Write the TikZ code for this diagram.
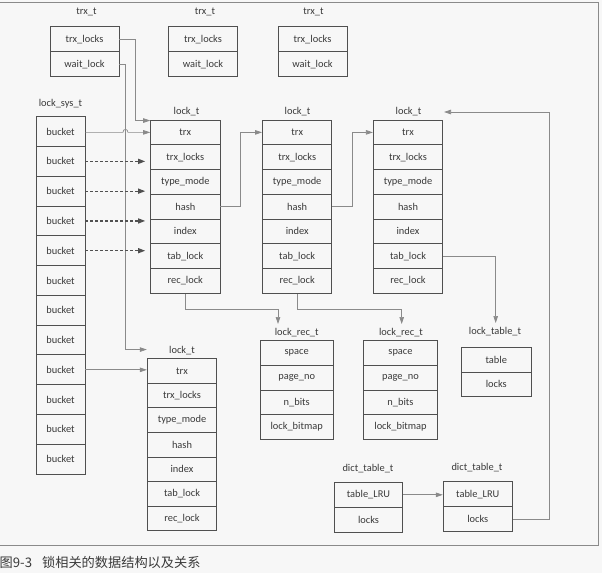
\documentclass[tikz,border=0pt]{standalone}
\usepackage{fontspec}
\setmainfont{Carlito}
\newfontfamily\cjkfont{Noto Sans CJK SC}
\usetikzlibrary{arrows.meta,calc}
\definecolor{boxc}{HTML}{505050}
\definecolor{linec}{HTML}{8A8A8A}
\definecolor{txtc}{HTML}{3A3A3A}
\definecolor{paper}{HTML}{F7F7F7}

% a record: name, x centre, y top, width, row height, row labels
\newcommand\drawrec[6]{%
  \foreach \t [count=\i] in {#6}{%
    \node[cell,minimum width=#4,minimum height=#5] (#1r\i) at (#2,{#3+#5*(\i-0.5)}) {\t};}}

\begin{document}
\begin{tikzpicture}[x=1pt,y=-1pt,
  cell/.style={draw=boxc,line width=0.9pt,inner sep=0pt,font=\fontsize{10.4}{12}\selectfont,text=txtc},
  title/.style={inner sep=0pt,font=\fontsize{10.4}{12}\selectfont,text=txtc},
  conn/.style={draw=linec,line width=0.7pt,-{Triangle[length=7pt,width=4.5pt]}},
  dashconn/.style={draw=boxc,line width=1.2pt,dash pattern=on 3pt off 2pt,-{Triangle[length=7pt,width=5pt]}},
  frame/.style={draw=linec,line width=0.8pt}]
\fill[paper] (0,0) rectangle (602,573);
\useasboundingbox (0,0) rectangle (602,573);

% frame of the figure
\draw[frame] (0,2) -- (598,2) -- (598,545) -- (0,545);

% transactions
\drawrec{t1}{84.5}{26.7}{69}{25}{trx\_locks,wait\_lock}
\drawrec{t2}{203}{26.7}{69}{25}{trx\_locks,wait\_lock}
\drawrec{t3}{312.5}{26.7}{69}{25}{trx\_locks,wait\_lock}
\node[title] (t1t) at (86.5,12) {trx\_t};
\node[title] (t2t) at (205,12) {trx\_t};
\node[title] (t3t) at (313.5,12) {trx\_t};

% lock system hash buckets
\drawrec{s}{60.5}{116.7}{49}{29.78}{bucket,bucket,bucket,bucket,bucket,bucket,bucket,bucket,bucket,bucket,bucket,bucket}
\node[title] (st) at (60.5,104) {lock\_sys\_t};

% locks
\drawrec{l1}{185.3}{120}{69.3}{24.76}{trx,trx\_locks,type\_mode,hash,index,tab\_lock,rec\_lock}
\drawrec{l2}{297.2}{120}{69.3}{24.76}{trx,trx\_locks,type\_mode,hash,index,tab\_lock,rec\_lock}
\drawrec{l3}{408}{120}{69.3}{24.76}{trx,trx\_locks,type\_mode,hash,index,tab\_lock,rec\_lock}
\drawrec{l4}{182}{358.7}{69.4}{24.57}{trx,trx\_locks,type\_mode,hash,index,tab\_lock,rec\_lock}
\node[title] (l1t) at (186.5,112) {lock\_t};
\node[title] (l2t) at (297.5,112) {lock\_t};
\node[title] (l3t) at (408.5,112) {lock\_t};
\node[title] (l4t) at (182,351) {lock\_t};

% record locks and table lock
\drawrec{r1}{296.7}{340.7}{73.3}{24.65}{space,page\_no,n\_bits,lock\_bitmap}
\drawrec{r2}{400.5}{340.7}{74.4}{24.65}{space,page\_no,n\_bits,lock\_bitmap}
\drawrec{lt}{496.3}{347.3}{69.3}{24.7}{table,locks}
\node[title] (r1t) at (296.7,333) {lock\_rec\_t};
\node[title] (r2t) at (401,333) {lock\_rec\_t};
\node[title] (ltt) at (495,332) {lock\_table\_t};

% dictionary tables
\drawrec{d1}{368.5}{482.3}{68.4}{25}{table\_LRU,locks}
\drawrec{d2}{477.8}{481.7}{69}{24.8}{table\_LRU,locks}
\node[title] (d1t) at (368,469) {dict\_table\_t};
\node[title] (d2t) at (477,468) {dict\_table\_t};

% arrow targets next to the titles
\coordinate (r1in) at (278,324);
\coordinate (r2in) at (401.7,324);
\coordinate (ltin) at (495.7,323);
\coordinate (l3in) at (444,112);

% connectors
\draw[conn] (t1r1.east) -- ++(16,0) |- ($(l1r1.north west)+(0,1)$);
\draw[conn] (t1r2.east) -- ++(6,0) |- ($(l4r1.north west)+(0,-8.7)$);
\draw[conn] (sr1.east |- l1r1) -- ++(37.5,0) .. controls +(0,-4) and +(0,-4) .. ++(5,0) -- (l1r1.west);
\foreach \k in {2,...,5}
  \draw[dashconn] (sr\k.east) -- ($(sr\k.east -| l1r1.west)+(-5,0)$);
\draw[conn] (sr9.east) -- (sr9.east -| l4r1.west);
\draw[conn] (l1r4.east) -- ++(20,0) |- (l2r1.west);
\draw[conn] (l2r4.east) -- ++(20,0) |- (l3r1.west);
\draw[conn] (l1r7.south) -- ++(0,16) -| (r1in);
\draw[conn] (l2r7.south) -- ++(0,16) -| (r2in);
\draw[conn] (l3r6.east) -| (ltin);
\draw[conn] (d1r1.east) -- (d1r1.east -| d2r1.west);
\draw[conn] (d2r2.east) -- ++(37,0) |- (l3in);

% caption
\node[anchor=west,inner sep=0pt,font=\cjkfont\fontsize{13.2}{15}\selectfont,text=txtc] (cap) at (-0.5,562) {图9-3\hspace{10pt}锁相关的数据结构以及关系};
\end{tikzpicture}
\end{document}
